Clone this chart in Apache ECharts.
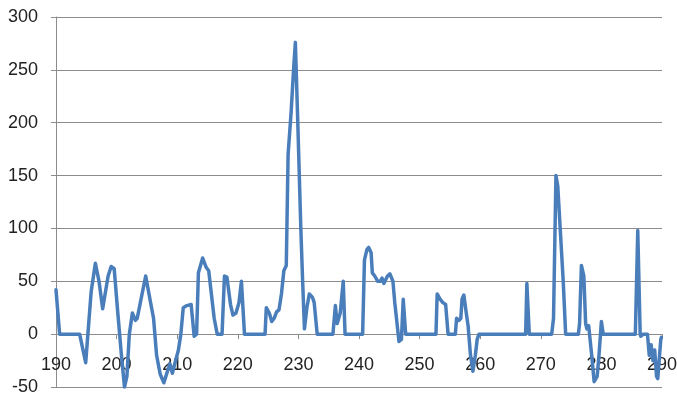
<!DOCTYPE html>
<html>
<head>
<meta charset="utf-8">
<script src="https://cdn.jsdelivr.net/npm/echarts@6/dist/echarts.min.js"></script>
<style>
  html, body { margin: 0; padding: 0; background: #fff; }
  #chart { width: 677px; height: 395px; }
</style>
</head>
<body>
<div id="chart"></div>
<script>
// x positions of the points
const xs = [
  190, 190.6, 193.9, 194.9, 195.8, 196.5, 197.1, 197.7, 198.0, 198.6, 199.1, 199.6,
  200.2, 200.8, 201.3, 201.7, 202.1, 202.6, 203.1, 203.4, 204.1, 204.8, 205.1, 205.6,
  206.1, 206.6, 207.2, 207.8, 208.4, 208.8, 209.2, 209.6, 210.2, 210.6, 211.0, 211.6,
  212.3, 212.8, 213.2, 213.5, 214.2, 214.8, 215.2, 215.7, 216.1, 216.6, 217.4, 217.8,
  218.2, 218.8, 219.2, 219.7, 220.2, 220.6, 221.1, 224.5, 224.7, 225.2, 225.6, 226.0,
  226.4, 226.8, 227.2, 227.6, 228.0, 228.3, 228.8, 229.2, 229.5, 229.9, 230.4, 230.7,
  231.0, 231.4, 231.8, 232.3, 232.6, 233.1, 235.7, 236.1, 236.4, 236.9, 237.4, 237.7,
  240.6, 240.9, 241.3, 241.6, 242.0, 242.2, 242.6, 243.1, 243.5, 243.8, 244.1, 244.7,
  245.1, 245.6, 245.9, 246.6, 247.0, 247.3, 247.7, 252.7, 252.9, 253.4, 253.8, 254.3,
  254.7, 255.9, 256.1, 256.5, 256.8, 257.0, 257.3, 257.7, 258.0, 258.4, 258.8, 259.2,
  259.5, 259.8, 267.5, 267.7, 268.1, 271.8, 272.1, 272.5, 272.8, 273.2, 273.7, 274.1,
  276.2, 276.4, 276.7, 277.1, 277.4, 277.6, 277.9, 278.4, 278.8, 279.3, 279.6, 280.0,
  280.3, 285.6, 286.0, 286.4, 286.5, 286.9, 287.6, 287.9, 288.2, 288.5, 288.8, 289.1,
  289.3, 289.8, 289.9
];
// y values of the points
const ys = [
  42, 0, 0, -27, 40, 67, 50, 24, 24, 55, 64, 62,
  20, -20, -50, -40, 0, 20, 13, 15, 35, 55, 55, 30,
  15, -20, -38, -46, -35, -28, -37, -28, -15, 0, 25, 27,
  28, -2, 0, 58, 72, 63, 60, 35, 15, 0, 0, 55,
  54, 28, 18, 20, 30, 50, 0, 0, 25, 20, 12, 15,
  21, 23, 38, 60, 65, 170, 210, 250, 276, 200, 100, 50,
  5, 25, 38, 35, 30, 0, 0, 27, 10, 20, 50, 0,
  0, 70, 80, 82, 77, 58, 55, 50, 50, 53, 48, 55,
  57, 50, 30, -7, -5, 33, 0, 0, 38, 33, 30, 28,
  0, 0, 15, 13, 15, 33, 37, 20, 8, -20, -35, -20,
  -5, 0, 0, 48, 0, 0, 15, 150, 140, 100, 50, 0,
  0, 10, 65, 55, 10, 5, 8, -20, -45, -40, -20, 12,
  0, 0, 98, 0, -2, 0, 0, -20, -10, -25, -15, -40,
  -42, -5, -3
];
const xTicks = [190, 200, 210, 220, 230, 240, 250, 260, 270, 280, 290];
const yTicks = [-50, 0, 50, 100, 150, 200, 250, 300];

const GRID_TOP = 17;
const GRID_BOTTOM = 8;
const CHART_H = 395;

const chart = echarts.init(document.getElementById('chart'), null, { renderer: 'canvas' });

const labelStyle = {
  color: '#222',
  fontSize: 18,
  fontFamily: 'Liberation Sans, Arial, sans-serif'
};

// move the x axis up so it sits on y = 0 (labels included)
const plotH = CHART_H - GRID_TOP - GRID_BOTTOM;
const yMin = yTicks[0], yMax = yTicks[yTicks.length - 1];
const zeroOffset = -plotH * (0 - yMin) / (yMax - yMin);

const option = {
  animation: false,
  grid: {
    left: 56,
    right: 15,
    top: GRID_TOP,
    bottom: GRID_BOTTOM,
    containLabel: false,
    outerBoundsMode: 'none'
  },
  xAxis: {
    type: 'value',
    min: xTicks[0],
    max: xTicks[xTicks.length - 1],
    interval: 10,
    offset: zeroOffset,
    axisLine: { onZero: false, lineStyle: { color: '#8c8c8c', width: 1 } },
    axisTick: { show: true, length: 5, lineStyle: { color: '#8c8c8c' } },
    axisLabel: Object.assign({ margin: 22 }, labelStyle),
    splitLine: { show: false }
  },
  yAxis: {
    type: 'value',
    min: yMin,
    max: yMax,
    interval: 50,
    axisLine: { show: true, onZero: false, lineStyle: { color: '#8c8c8c', width: 1 } },
    axisTick: { show: true, length: 5, lineStyle: { color: '#8c8c8c' } },
    axisLabel: Object.assign({ margin: 18 }, labelStyle),
    splitLine: { show: true, lineStyle: { color: '#8c8c8c', width: 1 } }
  },
  series: [
    {
      type: 'line',
      data: xs.map((x, i) => [x, ys[i]]),
      showSymbol: false,
      smooth: false,
      lineStyle: { color: '#4a7ebb', width: 3.5, join: 'round', cap: 'round' }
    }
  ]
};
chart.setOption(option);
</script>
</body>
</html>
